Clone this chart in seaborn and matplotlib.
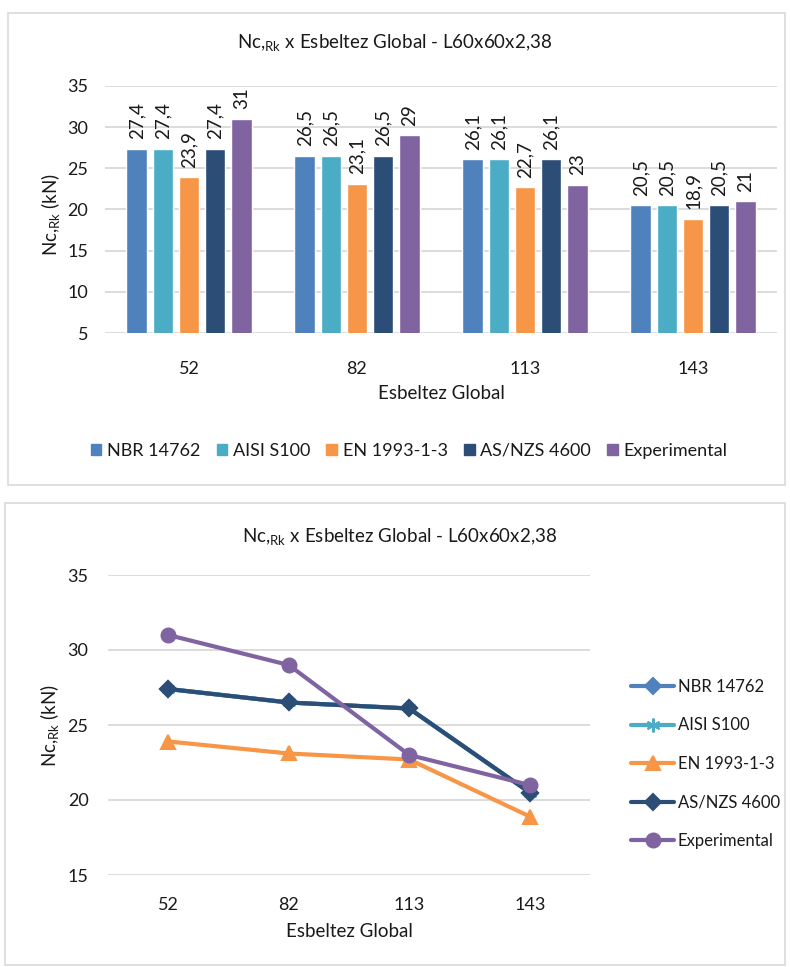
import numpy as np
import pandas as pd
import seaborn as sns
import matplotlib.pyplot as plt
from matplotlib.patches import Rectangle

# data
esbeltez = ["52", "82", "113", "143"]
nbr = [27.4, 26.5, 26.1, 20.5]
aisi = [27.4, 26.5, 26.1, 20.5]
en = [23.9, 23.1, 22.7, 18.9]
asnzs = [27.4, 26.5, 26.1, 20.5]
experimental = [31, 29, 23, 21]

series_names = ["NBR 14762", "AISI S100", "EN 1993-1-3", "AS/NZS 4600", "Experimental"]
series_vals = [nbr, aisi, en, asnzs, experimental]
colors = ["#4F81BD", "#4BACC6", "#F79646", "#2C4D75", "#8064A2"]
markers = ["D", (6, 2, 0), "^", "D", "o"]
msizes = [8, 10, 10, 8, 10]

rows = []
for name, vals in zip(series_names, series_vals):
    for e, v in zip(esbeltez, vals):
        rows.append({"Esbeltez": e, "Norma": name, "Nc": v})
df = pd.DataFrame(rows)

sns.set_style("white")
plt.rcParams["font.family"] = ["Lato", "DejaVu Sans"]
plt.rcParams["mathtext.fontset"] = "custom"
plt.rcParams["mathtext.rm"] = "Lato"
txt = "#1a1a1a"
grid_c = "#D9D9D9"
fs = 13

fig = plt.figure(figsize=(7.9, 9.67), dpi=100)

# panel borders
fig.patches.append(Rectangle((8 / 790, 1 - 485 / 967), 777 / 790, 472 / 967,
                             transform=fig.transFigure, fill=False, edgecolor=grid_c, lw=1.2))
fig.patches.append(Rectangle((5 / 790, 1 - 965 / 967), 780 / 790, 462 / 967,
                             transform=fig.transFigure, fill=False, edgecolor=grid_c, lw=1.2))

title = r"Nc,$_{\mathregular{Rk}}$ x Esbeltez Global - L60x60x2,38"
ylab = r"Nc,$_{\mathregular{Rk}}$ (kN)"

# -------------------------------
# TOP: bar chart
# -------------------------------
ax1 = fig.add_axes([105 / 790, 1 - 333 / 967, 672 / 790, 247 / 967])
sns.barplot(data=df, x="Esbeltez", y="Nc", hue="Norma", palette=colors,
            width=0.78, ax=ax1, legend=False, saturation=1)

# shrink bars a bit so they have gaps like the original
for p in ax1.patches:
    w = p.get_width()
    p.set_x(p.get_x() + w * 0.11)
    p.set_width(w * 0.78)

for cont, vals in zip(ax1.containers, series_vals):
    labs = [str(int(v)) if v == int(v) else f"{v:.1f}".replace(".", ",") for v in vals]
    ax1.bar_label(cont, labels=labs, rotation=90, padding=7, fontsize=13.5, color=txt)

ax1.set_ylim(5, 35)
ax1.set_yticks([5, 10, 15, 20, 25, 30, 35])
ax1.set_xlim(-0.5, 3.5)
ax1.yaxis.grid(True, color=grid_c, lw=1.3)
ax1.set_axisbelow(True)
for s in ax1.spines.values():
    s.set_visible(False)
ax1.tick_params(axis="both", length=0, labelsize=fs, colors=txt)
ax1.tick_params(axis="y", pad=12)
ax1.tick_params(axis="x", pad=20)
ax1.set_xlabel("Esbeltez Global", fontsize=13.5, color=txt, labelpad=6)
ax1.set_ylabel("")
fig.text(51 / 790, 1 - 214 / 967, ylab, rotation=90, ha="center", va="center",
         fontsize=13.5, color=txt)

fig.text(395 / 790, 1 - 43 / 967, title, ha="center", va="center", fontsize=13.5, color=txt)

handles = [Rectangle((0, 0), 1, 1, color=c) for c in colors]
fig.legend(handles, series_names, loc="center", bbox_to_anchor=(409 / 790, 1 - 451 / 967),
           ncol=5, frameon=False, fontsize=fs, handlelength=0.6, handleheight=0.6,
           handletextpad=0.3, columnspacing=0.9, labelcolor=txt)

# -------------------------------
# BOTTOM: line chart
# -------------------------------
ax2 = fig.add_axes([108 / 790, 1 - 875 / 967, 482 / 790, 300 / 967])
for name, vals, c, m, ms in zip(series_names, series_vals, colors, markers, msizes):
    sns.lineplot(x=esbeltez, y=vals, ax=ax2, color=c, lw=3, marker=m, markersize=ms,
                 markeredgecolor=c, markeredgewidth=1.5, label=name, sort=False,
                 solid_capstyle="round", solid_joinstyle="round")

ax2.set_ylim(15, 35)
ax2.set_yticks([15, 20, 25, 30, 35])
ax2.set_xlim(-0.5, 3.5)
ax2.yaxis.grid(True, color=grid_c, lw=1.3)
ax2.set_axisbelow(True)
for s in ax2.spines.values():
    s.set_visible(False)
ax2.tick_params(axis="both", length=0, labelsize=fs, colors=txt)
ax2.tick_params(axis="y", pad=14)
ax2.tick_params(axis="x", pad=16)
ax2.set_xlabel("Esbeltez Global", fontsize=13.5, color=txt, labelpad=7)
ax2.set_ylabel("")
fig.text(50 / 790, 1 - 725 / 967, ylab, rotation=90, ha="center", va="center",
         fontsize=13.5, color=txt)

fig.text(400 / 790, 1 - 537 / 967, title, ha="center", va="center", fontsize=13.5, color=txt)

h, l = ax2.get_legend_handles_labels()
ax2.get_legend().remove()
fig.legend(h, l, loc="center left", bbox_to_anchor=(616 / 790, 1 - 764 / 967),
           frameon=False, fontsize=12, handlelength=2.6, handletextpad=0.2,
           labelspacing=1.35, labelcolor=txt)

fig.savefig("out.png", dpi=100)
